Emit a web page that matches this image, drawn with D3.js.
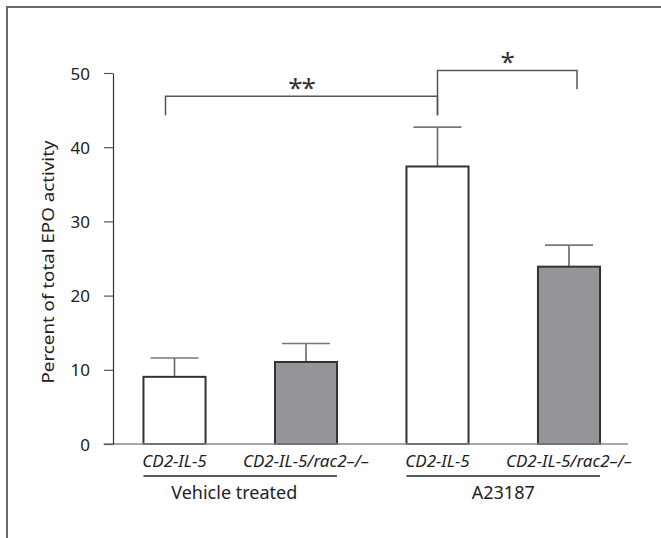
<!DOCTYPE html>
<html>
<head>
<meta charset="utf-8">
<script src="https://cdn.jsdelivr.net/npm/d3@7"></script>
<style>
  body { margin: 0; background: #fff; }
  svg { display: block; font-family: "Noto Sans", "Open Sans", sans-serif; }
</style>
</head>
<body>
<svg id="chart" width="661" height="538"></svg>
<script>
// data
const categories = ['CD2-IL-5', 'CD2-IL-5/rac2\u2013/\u2013', 'CD2-IL-5 ', 'CD2-IL-5/rac2\u2013/\u2013 '];
const means = [9.05, 11.05, 37.4, 23.9];
const errors = [2.55, 2.5, 5.3, 2.9];
const fills = ['#ffffff', '#939598', '#ffffff', '#939598'];
const groups = [
  { label: 'Vehicle treated', from: 0, to: 1 },
  { label: 'A23187', from: 2, to: 3 }
];
const yTicks = [0, 10, 20, 30, 40, 50];
// significance brackets: bar indices, bracket height and leg ends (in % units)
const brackets = [
  { a: 0, b: 2, label: '**', y: 46.85, legA: 44.3, legB: 44.3, shiftA: -9, shiftB: 0 },
  { a: 2, b: 3, label: '*', y: 50.35, legA: 44.3, legB: 47.8, shiftA: 0, shiftB: 8 }
];

const svg = d3.select('#chart');

// frame (page is cropped on right/bottom)
svg.append('path')
  .attr('d', 'M7,538 V7 H661')
  .attr('fill', 'none')
  .attr('stroke', '#6a6a6a')
  .attr('stroke-width', 2);

const x = d3.scaleBand()
  .domain(categories)
  .range([108.75, 634.75])
  .paddingInner(0.528)
  .paddingOuter(0.264);

const y = d3.scaleLinear()
  .domain([0, 50])
  .range([444, 73]);

const axisX0 = 113;

const bars = svg.append('g');
const barData = categories.map((c, i) => ({ c, v: means[i], e: errors[i], f: fills[i] }));

// error bars (drawn first so bar outline sits on top)
const err = bars.selectAll('g.err')
  .data(barData)
  .join('g')
  .attr('class', 'err');

err.append('line')
  .attr('x1', d => x(d.c) + x.bandwidth() / 2)
  .attr('x2', d => x(d.c) + x.bandwidth() / 2)
  .attr('y1', d => y(d.v))
  .attr('y2', d => y(d.v + d.e))
  .attr('stroke', '#666')
  .attr('stroke-width', 1.6);

err.append('line')
  .attr('x1', d => x(d.c) + x.bandwidth() / 2 - 24)
  .attr('x2', d => x(d.c) + x.bandwidth() / 2 + 24)
  .attr('y1', d => y(d.v + d.e))
  .attr('y2', d => y(d.v + d.e))
  .attr('stroke', '#777')
  .attr('stroke-width', 1.6);

bars.selectAll('rect')
  .data(barData)
  .join('rect')
  .attr('x', d => x(d.c))
  .attr('width', x.bandwidth())
  .attr('y', d => y(d.v))
  .attr('height', d => y(0) - y(d.v))
  .attr('fill', d => d.f)
  .attr('stroke', '#333')
  .attr('stroke-width', 2);

// x axis baseline
svg.append('line')
  .attr('x1', 103.5)
  .attr('x2', 628)
  .attr('y1', y(0))
  .attr('y2', y(0))
  .attr('stroke', '#8a8a8a')
  .attr('stroke-width', 1.6);

// y axis
const yAxis = svg.append('g')
  .attr('transform', `translate(${axisX0},0)`)
  .call(d3.axisLeft(y).tickValues(yTicks).tickSize(9).tickPadding(14).tickSizeOuter(0));

yAxis.select('.domain').attr('stroke', '#333').attr('stroke-width', 1.2);
yAxis.selectAll('.tick line').attr('stroke', '#555').attr('stroke-width', 1.2);
yAxis.selectAll('.tick text')
  .attr('font-size', 17)
  .attr('font-family', '"Noto Sans", sans-serif')
  .attr('fill', '#222')
  .attr('dy', '0.36em');

svg.append('text')
  .attr('transform', `translate(54,262) rotate(-90)`)
  .attr('text-anchor', 'middle')
  .attr('font-size', 16.5)
  .attr('textLength', 243)
  .attr('lengthAdjust', 'spacingAndGlyphs')
  .attr('fill', '#222')
  .text('Percent of total EPO activity');

// category labels
svg.append('g').selectAll('text')
  .data(categories)
  .join('text')
  .attr('x', d => x(d) + x.bandwidth() / 2)
  .attr('y', 467)
  .attr('text-anchor', 'middle')
  .attr('font-size', 17)
  .attr('font-style', 'italic')
  .attr('fill', '#222')
  .text(d => d.trim());

// group underlines and labels
const g = svg.append('g').selectAll('g')
  .data(groups)
  .join('g');

g.append('line')
  .attr('x1', d => x(categories[d.from]))
  .attr('x2', d => x(categories[d.to]) + x.bandwidth())
  .attr('y1', 476)
  .attr('y2', 476)
  .attr('stroke', '#222')
  .attr('stroke-width', 1.5);

g.append('text')
  .attr('x', d => (x(categories[d.from]) + x(categories[d.to]) + x.bandwidth()) / 2 - (d.from === 0 ? 6 : 0))
  .attr('y', 499)
  .attr('text-anchor', 'middle')
  .attr('font-size', 18)
  .attr('fill', '#222')
  .text(d => d.label);

// significance brackets
const br = svg.append('g').selectAll('g')
  .data(brackets)
  .join('g');

br.append('path')
  .attr('d', d => {
    const xa = x(categories[d.a]) + x.bandwidth() / 2 + d.shiftA;
    const xb = x(categories[d.b]) + x.bandwidth() / 2 + d.shiftB;
    return `M${xa},${y(d.legA)} V${y(d.y)} H${xb} V${y(d.legB)}`;
  })
  .attr('fill', 'none')
  .attr('stroke', '#555')
  .attr('stroke-width', 1.5);

br.append('text')
  .attr('x', d => (x(categories[d.a]) + x(categories[d.b]) + x.bandwidth() + d.shiftA + d.shiftB) / 2)
  .attr('y', d => y(d.y) + 1)
  .attr('text-anchor', 'middle')
  .attr('font-size', 26)
  .attr('fill', '#333')
  .attr('letter-spacing', -1)
  .text(d => d.label);
</script>
</body>
</html>
